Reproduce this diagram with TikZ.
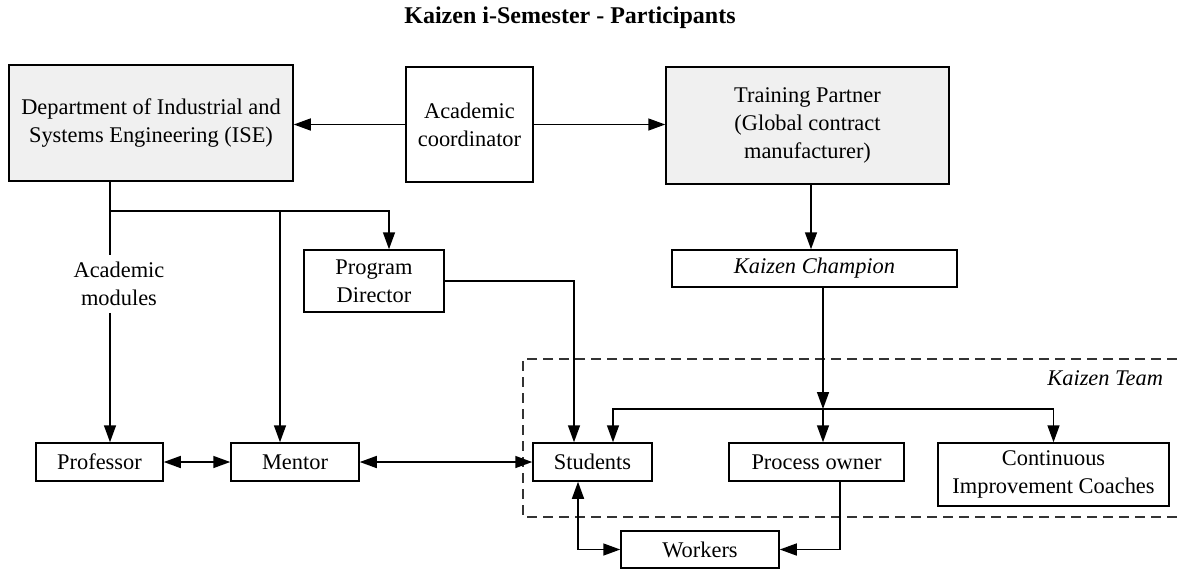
\documentclass[tikz,border=0pt]{standalone}
\usepackage{fontspec}
\setmainfont{Liberation Serif}
\usetikzlibrary{positioning}
\usetikzlibrary{calc}
\usetikzlibrary{arrows.meta}

\begin{document}
\begin{tikzpicture}[x=0.5pt, y=-0.5pt,
	every node/.style={font=\fontsize{11.2}{14}\selectfont},
	box/.style={draw, line width=0.75pt, align=center, inner sep=0pt},
	shaded/.style={box, fill=gray!12},
	arr/.style={-{Triangle[length=8.5pt,width=6pt]}, line width=0.75pt},
	darr/.style={{Triangle[length=8.5pt,width=6pt]}-{Triangle[length=8.5pt,width=6pt]}, line width=0.75pt}]
				\useasboundingbox (0,0) rectangle (1177,569);
				\node[font=\fontsize{12}{14}\selectfont\bfseries] (title) at (570,18) {Kaizen i-Semester - Participants};
				% top row
				\node[shaded, minimum width=142pt, minimum height=58pt] (dept) at (151,123) {Department of Industrial and\\Systems Engineering (ISE)};
				\node[box, minimum width=63.5pt, minimum height=57.5pt] (coord) at (469.5,124.5) {Academic\\coordinator};
				\node[shaded, minimum width=141.5pt, minimum height=58.5pt] (partner) at (807.5,125.5) {Training Partner\\(Global contract\\manufacturer)};
				% middle row
				\node[box, minimum width=70pt, minimum height=31pt] (director) at (374,281) {Program\\Director};
				\node[box, minimum width=142.5pt, minimum height=18.5pt, font=\fontsize{11.2}{14}\selectfont\itshape] (champion) at (814.5,268.5) {Kaizen Champion};
				\node[align=center] (modules) at (119,284) {Academic\\modules};
				% bottom row
				\node[box, minimum width=63.5pt, minimum height=19pt] (prof) at (99.5,462) {Professor};
				\node[box, minimum width=64pt, minimum height=19pt] (mentor) at (295,462) {Mentor};
				\node[box, minimum width=59.5pt, minimum height=19pt] (students) at (592.5,462) {Students};
				\node[box, minimum width=87.5pt, minimum height=19pt] (owner) at (816.5,462) {Process owner};
				\node[box, minimum width=115.5pt, minimum height=31.5pt] (coaches) at (1053.5,474.5) {Continuous\\Improvement Coaches};
				\node[box, minimum width=79pt, minimum height=18.5pt] (workers) at (700,549.5) {Workers};
				% kaizen team
				\draw[dashed, dash pattern=on 5pt off 3pt, line width=0.75pt, black!80] (1177,359) -- (523,359) -- (523,517) -- (1177,517);
				\node[anchor=east, font=\fontsize{11.2}{14}\selectfont\itshape] (team) at (1170,378) {Kaizen Team};
				% connectors
				\draw[arr] (coord.west) -- (coord.west -| dept.east);
				\draw[arr] (coord.east) -- (coord.east -| partner.west);
				\draw[arr] ($(partner.south)+(3.5,0)$) -- ($(partner.south |- champion.north)+(3.5,0)$);
				\coordinate (dsplit) at (110,211);
				\coordinate (mtap) at (280,211);
				\draw[line width=0.75pt] (dept.south -| dsplit) -- (dsplit |- modules.north);
				\draw[arr] (dsplit) -| ($(director.north)+(15,0)$);
				\draw[arr] (mtap) -- (mtap |- mentor.north);
				\draw[arr] (modules.south -| dsplit) -- (dsplit |- prof.north);
				\draw[arr] (director.east) -| ($(students.north)+(-18.5,0)$);
				\coordinate (tsplit) at (823,409);
				\draw[arr] (champion.south -| tsplit) -- (tsplit);
				\draw[arr] (tsplit) -- (tsplit |- owner.north);
				\draw[arr] (tsplit) -| ($(students.north)+(20.5,0)$);
				\draw[arr] (tsplit) -| (coaches.north);
				\draw[darr] (prof.east) -- (mentor.west);
				\draw[darr] (mentor.east) -- (students.west);
				\draw[darr] ($(students.south)+(-14.5,0)$) |- (workers.west);
				\draw[arr] ($(owner.south)+(23.5,0)$) |- (workers.east);
\end{tikzpicture}
\end{document}
